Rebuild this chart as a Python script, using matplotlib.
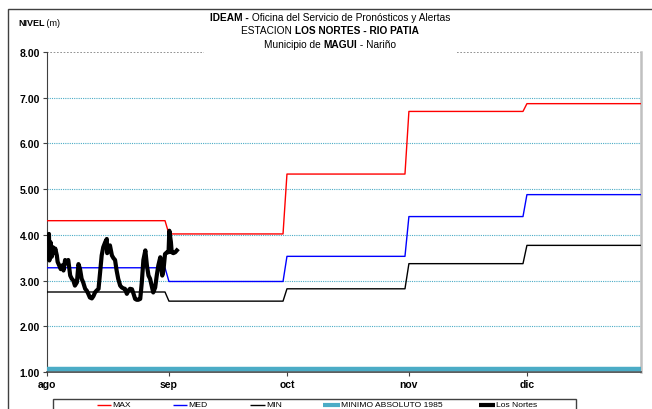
import numpy as np
import matplotlib
matplotlib.use("Agg")
import matplotlib.pyplot as plt
from matplotlib.lines import Line2D
from matplotlib.patches import Rectangle
from matplotlib.offsetbox import TextArea, HPacker, VPacker, AnchoredOffsetbox

# month labels and the day (from 1 Aug) where each month starts
months = ["ago", "sep", "oct", "nov", "dic"]
month_start = [0, 31, 61, 92, 122]
x_end = 151

# monthly reference levels (m)
nivel_max = [4.31, 4.02, 5.33, 6.70, 6.87]
nivel_med = [3.28, 2.98, 3.53, 4.40, 4.88]
nivel_min = [2.75, 2.55, 2.82, 3.37, 3.77]
minimo_abs = 1.055

# Los Nortes observed level
nortes_day = [0.2, 0.5, 0.6, 0.9, 1.2, 1.5, 1.9, 2.1, 2.5, 2.7, 3.1, 3.5, 3.8, 4.2,
              4.6, 5.0, 5.4, 5.9, 6.3, 6.7, 7.1, 7.6, 8.0, 8.4, 8.8, 9.2, 9.7, 10.1,
              10.5, 10.9, 11.4, 11.8, 12.2, 12.6, 13.1, 13.5, 13.9, 14.3, 14.8, 15.2,
              15.3, 15.6, 16.0, 16.5, 16.9, 17.3, 17.7, 18.1, 18.6, 19.0, 19.4, 19.8,
              20.3, 20.7, 21.1, 21.6, 22.0, 22.4, 22.8, 23.2, 23.7, 24.1, 24.5, 25.0,
              25.4, 25.8, 26.2, 26.6, 27.0, 27.5, 27.9, 28.3, 28.8, 29.0, 29.3, 29.6,
              30.0, 30.5, 30.9, 31.1, 31.5, 31.7, 32.1, 32.6, 33.0]
nortes_level = [4.00, 4.02, 3.44, 3.84, 3.52, 3.73, 3.60, 3.70, 3.55, 3.41, 3.33, 3.25, 3.33, 3.22,
                3.45, 3.38, 3.45, 3.11, 3.04, 3.00, 2.89, 2.96, 3.36, 3.25, 3.04, 2.96, 2.82, 2.78,
                2.71, 2.63, 2.61, 2.66, 2.74, 2.78, 2.82, 3.18, 3.55, 3.73, 3.84, 3.91,
                3.60, 3.66, 3.77, 3.55, 3.49, 3.45, 3.22, 3.04, 2.89, 2.85, 2.83, 2.82,
                2.71, 2.78, 2.82, 2.81, 2.71, 2.60, 2.58, 2.58, 2.60, 2.96, 3.45, 3.66,
                3.33, 3.11, 3.04, 2.89, 2.74, 2.85, 3.11, 3.33, 3.51, 3.33, 3.11, 3.22,
                3.58, 3.62, 3.62, 4.09, 3.84, 3.62, 3.60, 3.62, 3.66]

y_ticks = [1, 2, 3, 4, 5, 6, 7, 8]


def steps(vals):
    xs, ys = [], []
    for i, v in enumerate(vals):
        a = month_start[i]
        b = month_start[i + 1] - 1 if i + 1 < len(vals) else x_end
        xs += [a, b]
        ys += [v, v]
    return xs, ys


W, H = 652, 410
fig = plt.figure(figsize=(W / 100, H / 100), dpi=100)
narrow = ["Liberation Sans Narrow", "Liberation Sans", "DejaVu Sans"]
arial = ["Liberation Sans", "DejaVu Sans"]

# outer frame
fig.patches.append(Rectangle((8 / W, -0.1), 1.2, 1.1 - 10 / H, transform=fig.transFigure,
                             fill=False, edgecolor="#404040", linewidth=1.0))

ax = fig.add_axes([47 / W, 37 / H, (641 - 47) / W, (373 - 53) / H])

for yv in y_ticks[1:-1]:
    ax.axhline(yv, color="#4bacc6", linestyle=(0, (1, 1)), linewidth=0.8, zorder=1)
ax.axhline(8, color="#808080", linestyle=(0, (1, 1)), linewidth=1.2, zorder=1)

lc = "#404040"
xs, ys = steps(nivel_max)
ax.plot(xs, ys, color="#ff0000", linewidth=1.0, zorder=3)
xs, ys = steps(nivel_med)
ax.plot(xs, ys, color="#0000ff", linewidth=1.0, zorder=3)
xs, ys = steps(nivel_min)
ax.plot(xs, ys, color="#000000", linewidth=1.0, zorder=3)
ax.plot([0, x_end], [minimo_abs, minimo_abs], color="#4bacc6", linewidth=3.2, zorder=3,
        solid_capstyle="butt")
ax.plot(nortes_day, nortes_level, color="#000000", linewidth=3.0, zorder=4,
        solid_joinstyle="round")

ax.set_xlim(0, x_end)
ax.set_ylim(1, 8)
ax.set_yticks(y_ticks)
ax.set_yticklabels(["%.2f" % v for v in y_ticks], fontsize=7.5, fontweight="bold",
                   family=arial)
ax.set_xticks(month_start)
ax.set_xticklabels(months, fontsize=7.5, fontweight="bold", family=arial)
ax.tick_params(axis="both", direction="out", length=3, width=0.8, color=lc, pad=2)

ax.spines["top"].set_visible(False)
ax.spines["left"].set_color(lc)
ax.spines["bottom"].set_color(lc)
ax.spines["bottom"].set_linewidth(1.2)
ax.spines["right"].set_color("#c0c0c0")
ax.spines["right"].set_linewidth(1.8)

# white gap in the top line behind the title
fig.add_artist(Rectangle((204 / W, 1 - 57 / H), (456 - 204) / W, 12 / H,
                         transform=fig.transFigure, facecolor="white", edgecolor="none",
                         zorder=5))

# title
tp = dict(fontsize=7.3, family=narrow)
tb = dict(fontsize=7.3, family=narrow, fontweight="bold")
l1 = HPacker(children=[TextArea("IDEAM -", textprops=tb),
                       TextArea(" Oficina del Servicio de Pronósticos y Alertas", textprops=tp)],
             pad=0, sep=0, align="baseline")
l2 = HPacker(children=[TextArea("ESTACION ", textprops=tp),
                       TextArea("LOS NORTES - RIO PATIA", textprops=tb)],
             pad=0, sep=0, align="baseline")
l3 = HPacker(children=[TextArea("Municipio de ", textprops=tp),
                       TextArea("MAGUI", textprops=tb),
                       TextArea(" - Nariño", textprops=tp)],
             pad=0, sep=0, align="baseline")
title = VPacker(children=[l1, l2, l3], pad=0, sep=2.5, align="center")
tbox = AnchoredOffsetbox(loc="upper center", child=title, pad=0, borderpad=0,
                         frameon=False, bbox_to_anchor=(330 / W, 1 - 13 / H),
                         bbox_transform=fig.transFigure)
tbox.set_zorder(6)
fig.add_artist(tbox)

nl = HPacker(children=[TextArea("NIVEL", textprops=dict(fontsize=6.5, family=narrow, fontweight="bold")),
                       TextArea(" (m)", textprops=dict(fontsize=6.5, family=narrow))],
             pad=0, sep=0, align="baseline")
fig.add_artist(AnchoredOffsetbox(loc="center left", child=nl, pad=0, borderpad=0, frameon=False,
                                 bbox_to_anchor=(18 / W, 1 - 24 / H), bbox_transform=fig.transFigure))

# legend box
fig.patches.append(Rectangle((53 / W, -0.1), (576 - 53) / W, 0.1 + (410 - 400) / H,
                             transform=fig.transFigure, fill=False, edgecolor="#404040",
                             linewidth=1.0))
leg_items = [("MAX", "#ff0000", 1.0, 97, 111),
             ("MED", "#0000ff", 1.0, 173, 187),
             ("MIN", "#000000", 1.0, 250, 265),
             ("MINIMO ABSOLUTO 1985", "#4bacc6", 3.0, 323, 340),
             ("Los Nortes", "#000000", 3.0, 479, 495)]
ly = 1 - 406 / H
for lab, col, lw, x0, x1 in leg_items:
    fig.add_artist(Line2D([x0 / W, x1 / W], [ly, ly], color=col, linewidth=lw,
                          transform=fig.transFigure, solid_capstyle="butt"))
    fig.text((x1 + 1) / W, ly, lab, fontsize=6.1, family=narrow, va="center", ha="left")

fig.savefig("out.png", dpi=100)
